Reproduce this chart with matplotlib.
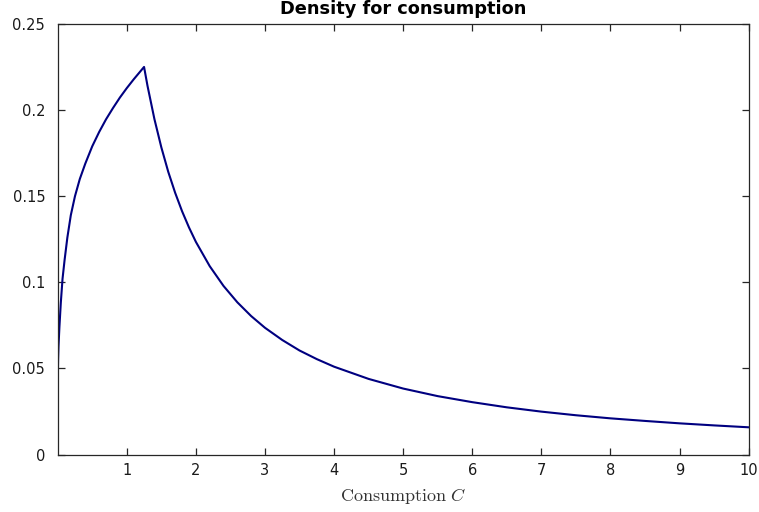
import matplotlib
matplotlib.use('Agg')
import matplotlib.pyplot as plt

# density of consumption
c_rise = [0, 0.0003, 0.002, 0.006, 0.012, 0.025, 0.045, 0.07, 0.1, 0.14, 0.19,
          0.25, 0.32, 0.4, 0.5, 0.6, 0.7, 0.8, 0.9, 1.0, 1.1, 1.2, 1.25]
d_rise = [0, 0.03, 0.045, 0.055, 0.063, 0.074, 0.088, 0.102, 0.113, 0.126, 0.139,
          0.150, 0.160, 0.169, 0.179, 0.1873, 0.1947, 0.2012, 0.2073, 0.2128, 0.2179, 0.2227, 0.2251]
c_fall = [1.3, 1.4, 1.5, 1.6, 1.7, 1.8, 1.9, 2.0, 2.2, 2.4, 2.6, 2.8, 3.0, 3.25,
          3.5, 3.75, 4.0, 4.5, 5.0, 5.5, 6.0, 6.5, 7.0, 7.5, 8.0, 8.5, 9.0, 9.5, 10.0]
d_fall = [0.2141, 0.1948, 0.1784, 0.1642, 0.1520, 0.1413, 0.1319, 0.1235, 0.1094,
          0.0979, 0.0884, 0.0804, 0.0736, 0.0665, 0.0604, 0.0554, 0.0510, 0.0439,
          0.0383, 0.0339, 0.0304, 0.0274, 0.0249, 0.0228, 0.0210, 0.0195, 0.0181,
          0.0169, 0.0158]

x_ticks = [1, 2, 3, 4, 5, 6, 7, 8, 9, 10]
y_ticks = [0, 0.05, 0.1, 0.15, 0.2, 0.25]
y_labels = ['0', '0.05', '0.1', '0.15', '0.2', '0.25']

plt.rcParams['mathtext.fontset'] = 'cm'
plt.rcParams['font.family'] = ['DejaVu Sans']

fig = plt.figure(figsize=(7.59, 5.12), dpi=100)
ax = fig.add_axes([0.076, 0.1123, 0.9104, 0.8407])

ax.plot(c_rise + c_fall, d_rise + d_fall, color='#000080', linewidth=1.5)

ax.set_xlim(0, 10)
ax.set_ylim(0, 0.25)
ax.set_xticks(x_ticks)
ax.set_xticklabels([str(t) for t in x_ticks])
ax.set_yticks(y_ticks)
ax.set_yticklabels(y_labels)

ax.tick_params(direction='in', top=True, right=True, length=5, width=0.9,
               color='#262626', labelsize=10.5, labelcolor='#1a1a1a')
ax.tick_params(axis='y', pad=9)
ax.tick_params(axis='x', pad=6)
for s in ax.spines.values():
    s.set_color('#262626')
    s.set_linewidth(0.9)

ax.set_title('Density for consumption', fontsize=12.8, fontweight='bold', pad=0, y=1.023)
ax.set_xlabel(r'$\mathrm{Consumption}\ C$', fontsize=13, color='#333333', labelpad=6)

fig.savefig('out.png', dpi=100)
